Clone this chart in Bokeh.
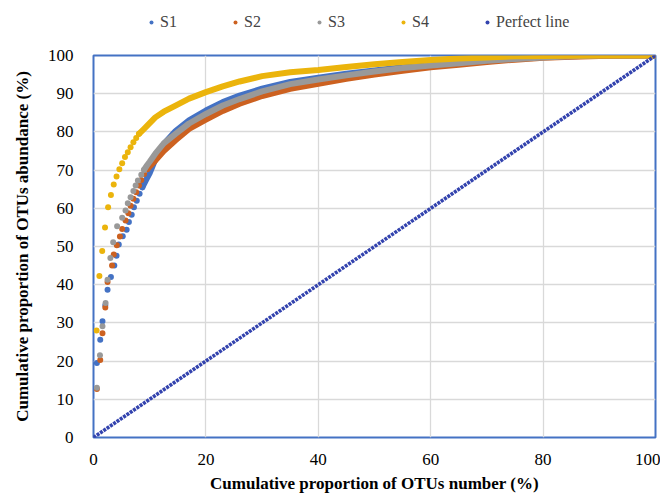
from bokeh.plotting import figure
from bokeh.layouts import column
from bokeh.models import Range1d, FixedTicker, Legend, LegendItem
from bokeh.embed import file_html
from bokeh.resources import INLINE

# ---- data (x: cumulative % of OTUs number, y: cumulative % abundance)
series_names = ["S1", "S2", "S3", "S4"]

# S1: distinct early dots, then dense tail
s1_dots_x = [0.6, 1.2, 1.6, 2.1, 2.5, 3.1, 3.7, 4.1, 4.5, 5.2, 5.9, 6.3, 6.8, 7.2, 7.7, 8.2, 8.7]
s1_dots_y = [19.5, 25.6, 30.4, 34.6, 38.7, 42.0, 45.0, 47.6, 50.5, 52.7, 54.4, 56.4, 58.3, 60.3, 62.0, 63.8, 65.5]
s1_tail_x = [8.7, 9.2, 10, 11, 12.5, 14.6, 17, 20, 23, 26, 30, 35, 40, 45, 50, 55, 60, 65, 70, 75, 80, 85, 90, 100]
s1_tail_y = [65.5, 67.0, 69.2, 72.8, 76.8, 80.2, 83.0, 85.6, 87.8, 89.5, 91.3, 93.1, 94.2, 95.2, 96.1, 96.9, 97.7, 98.3, 98.8, 99.2, 99.6, 99.8, 100, 100]

# S2
s2_dots_x = [0.6, 1.2, 1.6, 2.1, 2.5, 3.3, 3.6, 4.15, 4.7, 5.1, 5.7, 6.2, 6.6, 7.1, 7.6, 8.1, 8.5, 9.0, 9.6]
s2_dots_y = [12.7, 20.3, 27.3, 34.0, 40.7, 45.0, 47.9, 50.3, 52.6, 54.6, 56.8, 58.7, 60.7, 62.5, 64.2, 66.0, 67.4, 69.0, 70.3]
s2_tail_x = [9.6, 10, 11, 12.5, 14.6, 17, 20, 23, 26, 30, 35, 40, 45, 50, 55, 60, 65, 70, 75, 80, 85, 90, 100]
s2_tail_y = [70.3, 71.0, 72.5, 75.0, 77.8, 80.8, 83.2, 85.5, 87.4, 89.4, 91.3, 92.6, 93.9, 95.0, 96.0, 96.9, 97.6, 98.3, 98.9, 99.4, 99.7, 99.9, 100]

# S3
s3_dots_x = [0.6, 1.15, 1.6, 2.15, 2.5, 3.0, 3.5, 4.2, 5.1, 5.7, 6.1, 6.6, 7.1, 7.5, 7.9, 8.5, 9.0]
s3_dots_y = [13.0, 21.5, 29.1, 35.2, 41.3, 47.0, 51.1, 55.3, 57.5, 59.4, 61.3, 62.9, 64.5, 66.0, 67.3, 68.8, 70.1]
s3_tail_x = [9.0, 9.5, 10, 11, 12.5, 14.6, 17, 20, 23, 26, 30, 35, 40, 45, 50, 55, 60, 65, 70, 75, 80, 85, 90, 100]
s3_tail_y = [70.1, 71.2, 72.2, 74.3, 77.0, 79.5, 82.2, 84.7, 86.9, 88.6, 90.6, 92.5, 93.7, 94.8, 95.8, 96.7, 97.4, 98.0, 98.6, 99.1, 99.5, 99.8, 100, 100]

# S4
s4_dots_x = [0.55, 1.05, 1.55, 2.05, 2.6, 3.1, 3.6, 4.1, 4.6, 5.1, 5.6, 6.1, 6.6, 7.1, 7.6, 8.1]
s4_dots_y = [28.0, 42.3, 48.8, 55.0, 60.3, 63.5, 66.2, 68.3, 70.2, 71.8, 73.4, 74.7, 76.0, 77.3, 78.4, 79.5]
s4_tail_x = [8.1, 9, 10, 11, 12.5, 14.6, 17, 20, 23, 26, 30, 35, 40, 45, 50, 55, 60, 65, 70, 75, 80, 90, 100]
s4_tail_y = [79.5, 80.8, 82.3, 83.8, 85.3, 86.9, 88.7, 90.4, 91.9, 93.2, 94.6, 95.6, 96.2, 97.0, 97.7, 98.3, 98.8, 99.2, 99.5, 99.8, 99.9, 100, 100]

# Perfect line (y = x)
perfect_x = [0, 100]
perfect_y = [0, 100]

x_ticks = [0, 20, 40, 60, 80, 100]
y_ticks = [0, 10, 20, 30, 40, 50, 60, 70, 80, 90, 100]

colors = ["#4472C4", "#CC6120", "#999999", "#EBB40C"]
perfect_color = "#3343AE"
FONT = "Liberation Serif"

p = figure(frame_width=562, frame_height=382, output_backend="svg", toolbar_location=None,
           x_range=Range1d(0, 100), y_range=Range1d(0, 100),
           min_border_left=93, min_border_right=5, min_border_top=8, min_border_bottom=50)

p.background_fill_color = "white"
p.border_fill_color = "white"
p.outline_line_color = "#4472C4"
p.outline_line_width = 2

for ax in (p.xaxis, p.yaxis):
    ax.axis_line_color = None
    ax.major_tick_line_color = None
    ax.minor_tick_line_color = None
    ax.major_label_text_font = FONT
    ax.major_label_text_font_size = "17px"
    ax.major_label_text_color = "black"
    ax.axis_label_text_font = FONT
    ax.axis_label_text_font_style = "bold"
    ax.axis_label_text_color = "black"
    ax.axis_label_text_font_size = "17px"

p.xaxis.ticker = FixedTicker(ticks=x_ticks)
p.yaxis.ticker = FixedTicker(ticks=y_ticks)
p.xaxis.axis_label = "Cumulative proportion of OTUs number (%)"
p.yaxis.axis_label = "Cumulative proportion of OTUs abundance (%)"
p.xaxis.major_label_standoff = 10
p.xaxis.axis_label_standoff = 6
p.yaxis.major_label_standoff = 14
p.yaxis.axis_label_standoff = 13

p.xgrid.grid_line_color = "#D9D9D9"
p.ygrid.grid_line_color = "#D9D9D9"
p.xgrid.grid_line_width = 1.3
p.ygrid.grid_line_width = 1.3

dots = [(s1_dots_x, s1_dots_y), (s2_dots_x, s2_dots_y), (s3_dots_x, s3_dots_y), (s4_dots_x, s4_dots_y)]
tails = [(s1_tail_x, s1_tail_y), (s2_tail_x, s2_tail_y), (s3_tail_x, s3_tail_y), (s4_tail_x, s4_tail_y)]

for name, c, (dx, dy), (tx, ty) in zip(series_names, colors, dots, tails):
    p.line(tx, ty, line_color=c, line_width=6, line_cap="round", line_join="round")
    p.scatter(dx, dy, size=6, fill_color=c, line_color=None)

p.line(perfect_x, perfect_y, line_color=perfect_color, line_width=3.6, line_dash="3 1")
p.scatter(perfect_x, perfect_y, size=4, fill_color=perfect_color, line_color=None)

# ---- legend strip above the plot (its renderers use the same data, kept outside its visible range)
lf = figure(width=660, height=47, output_backend="svg", toolbar_location=None,
            x_range=Range1d(1000, 1001), y_range=Range1d(1000, 1001),
            x_axis_type=None, y_axis_type=None, min_border=0)
lf.grid.visible = False
lf.outline_line_color = None
lf.background_fill_color = "white"
lf.border_fill_color = "white"

items = []
for name, c, (dx, dy) in zip(series_names, colors, dots):
    r = lf.scatter(dx, dy, size=6, fill_color=c, line_color=None)
    items.append(LegendItem(label=name, renderers=[r]))
rp = lf.scatter(perfect_x, perfect_y, size=4, fill_color=perfect_color, line_color=None)
items.append(LegendItem(label="Perfect line", renderers=[rp]))

legend = Legend(items=items, orientation="horizontal", location=(53, 16),
                margin=0, padding=4, spacing=50, glyph_width=10, glyph_height=16,
                label_standoff=4, label_text_font=FONT, label_text_font_size="16px",
                border_line_color=None, background_fill_alpha=0)
lf.add_layout(legend, "center")

layout = column(lf, p, spacing=0)
open("out.html", "w").write(file_html(layout, INLINE))
